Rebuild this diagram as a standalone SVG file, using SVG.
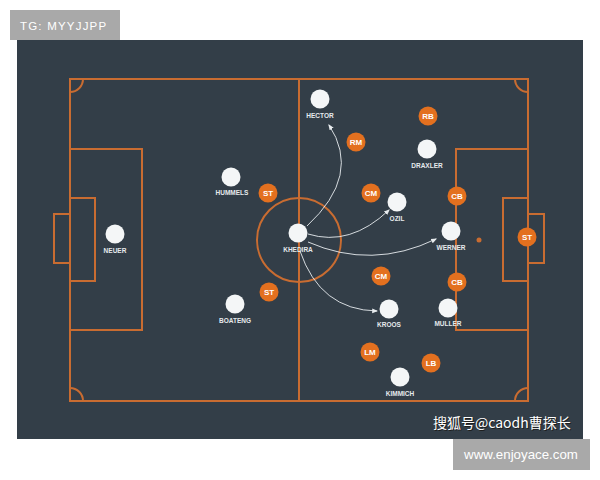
<svg xmlns="http://www.w3.org/2000/svg" width="600" height="480" viewBox="0 0 600 480">
<defs>
<style>
.line{fill:none;stroke:#c96c31;stroke-width:2}
.pl{fill:#f4f6f7}
.pt{fill:#e6eaed;font-family:"Liberation Sans",Arial,sans-serif;font-weight:bold;font-size:6.5px;text-anchor:middle}
.pos{fill:#e3701f}
.ps{fill:#ffffff;font-family:"Liberation Sans",Arial,sans-serif;font-weight:bold;font-size:8px;text-anchor:middle}
.arr{fill:none;stroke:#e8ecef;stroke-width:0.9;marker-end:url(#ah)}
</style>
<marker id="ah" viewBox="0 0 10 10" refX="8" refY="5" markerWidth="6" markerHeight="6" orient="auto" markerUnits="userSpaceOnUse">
<path d="M0,1 L10,5 L0,9 z" fill="#e8ecef"/>
</marker>
</defs>
<rect width="600" height="480" fill="#ffffff"/>
<rect x="17" y="40" width="566" height="399" fill="#333e48"/>

<g id="pitch">
<rect class="line" x="70" y="79" width="458" height="322"/>
<line class="line" x1="299" y1="79" x2="299" y2="401"/>
<circle class="line" cx="299" cy="240" r="42"/>
<rect class="line" x="70" y="149" width="72" height="181"/>
<rect class="line" x="70" y="198" width="25" height="83"/>
<rect class="line" x="54" y="214" width="16" height="49"/>
<rect class="line" x="456" y="149" width="72" height="181"/>
<rect class="line" x="503" y="198" width="25" height="83"/>
<rect class="line" x="528" y="214" width="16" height="49"/>
<path class="line" d="M70,92 A13,13 0 0 0 83,79"/>
<path class="line" d="M70,388 A13,13 0 0 1 83,401"/>
<path class="line" d="M515,79 A13,13 0 0 0 528,92"/>
<path class="line" d="M515,401 A13,13 0 0 1 528,388"/>
<circle cx="479" cy="240" r="2.5" fill="#c96c31"/>
</g>

<g id="connectors">
<path class="arr" d="M307,226 Q362,175 329,125"/>
<path class="arr" d="M308,234 Q350,247 389,210"/>
<path class="arr" d="M308,242 Q372,270 436,239"/>
<path class="arr" d="M300,251 Q320,310 377,311"/>
</g>

<g id="neuer"><circle class="pl" cx="115" cy="234" r="9.5"/><text class="pt" x="115" y="253">NEUER</text></g>
<g id="hummels"><circle class="pl" cx="231" cy="177" r="9.5"/><text class="pt" x="232" y="195">HUMMELS</text></g>
<g id="boateng"><circle class="pl" cx="235" cy="304" r="9.5"/><text class="pt" x="235" y="323">BOATENG</text></g>
<g id="khedira"><circle class="pl" cx="298" cy="233" r="9.5"/><text class="pt" x="298" y="252">KHEDIRA</text></g>
<g id="hector"><circle class="pl" cx="320" cy="99" r="9.5"/><text class="pt" x="320" y="118">HECTOR</text></g>
<g id="draxler"><circle class="pl" cx="427" cy="149" r="9.5"/><text class="pt" x="427" y="168">DRAXLER</text></g>
<g id="ozil"><circle class="pl" cx="397" cy="202" r="9.5"/><text class="pt" x="397" y="221">OZIL</text></g>
<g id="werner"><circle class="pl" cx="451" cy="231" r="9.5"/><text class="pt" x="451" y="250">WERNER</text></g>
<g id="kroos"><circle class="pl" cx="389" cy="309" r="9.5"/><text class="pt" x="389" y="327">KROOS</text></g>
<g id="muller"><circle class="pl" cx="448" cy="308" r="9.5"/><text class="pt" x="448" y="326">MULLER</text></g>
<g id="kimmich"><circle class="pl" cx="400" cy="377" r="9.5"/><text class="pt" x="400" y="396">KIMMICH</text></g>

<g id="st1"><circle class="pos" cx="268" cy="193" r="9.5"/><text class="ps" x="268" y="196">ST</text></g>
<g id="st2"><circle class="pos" cx="269" cy="292" r="9.5"/><text class="ps" x="269" y="295">ST</text></g>
<g id="rm"><circle class="pos" cx="356" cy="142" r="9.5"/><text class="ps" x="356" y="145">RM</text></g>
<g id="rb"><circle class="pos" cx="428" cy="116" r="9.5"/><text class="ps" x="428" y="119">RB</text></g>
<g id="cm1"><circle class="pos" cx="371" cy="193" r="9.5"/><text class="ps" x="371" y="196">CM</text></g>
<g id="cb1"><circle class="pos" cx="457" cy="196" r="9.5"/><text class="ps" x="457" y="199">CB</text></g>
<g id="st3"><circle class="pos" cx="527" cy="237" r="9.5"/><text class="ps" x="527" y="240">ST</text></g>
<g id="cm2"><circle class="pos" cx="381" cy="276" r="9.5"/><text class="ps" x="381" y="279">CM</text></g>
<g id="cb2"><circle class="pos" cx="457" cy="282" r="9.5"/><text class="ps" x="457" y="285">CB</text></g>
<g id="lm"><circle class="pos" cx="370" cy="352" r="9.5"/><text class="ps" x="370" y="355">LM</text></g>
<g id="lb"><circle class="pos" cx="431" cy="363" r="9.5"/><text class="ps" x="431" y="366">LB</text></g>

<g id="watermark">
<text x="434" y="429" font-family="'Noto Sans CJK SC',sans-serif" font-size="14" fill="#1e1e1e">搜狐号@caodh曹探长</text>
<text x="433" y="428" font-family="'Noto Sans CJK SC',sans-serif" font-size="14" fill="#ffffff">搜狐号@caodh曹探长</text>
</g>

<g id="tag-top">
<rect x="10" y="10" width="110" height="30" fill="#a9a9a9"/>
<text x="20" y="29.5" font-family="'Liberation Sans',Arial,sans-serif" font-size="11.5" letter-spacing="1.2" fill="#ffffff">TG: MYYJJPP</text>
</g>
<g id="tag-bottom">
<rect x="453" y="439" width="137" height="31" fill="#a9a9a9"/>
<text x="521" y="459" text-anchor="middle" font-family="'Liberation Sans',Arial,sans-serif" font-size="13.3" fill="#ffffff">www.enjoyace.com</text>
</g>
</svg>
